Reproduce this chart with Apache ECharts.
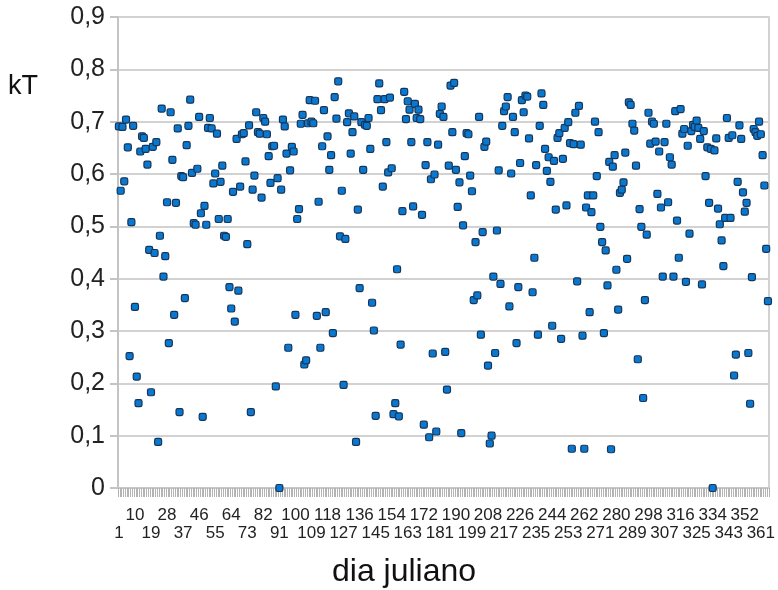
<!DOCTYPE html>
<html>
<head>
<meta charset="utf-8">
<script src="https://cdn.jsdelivr.net/npm/echarts@6/dist/echarts.min.js"></script>
<style>
  html, body { margin: 0; padding: 0; background: #ffffff; }
  #chart { width: 778px; height: 590px; }
</style>
</head>
<body>
<div id="chart"></div>
<script>
// Day of year (categories)
var days = [];
for (var d = 1; d <= 365; d++) { days.push(String(d)); }

// Daily clearness index kT
var kT = [
  0.691, 0.568, 0.690, 0.586, 0.704, 0.651, 0.252, 0.508, 0.692, 0.346,
  0.213, 0.162, 0.643, 0.672, 0.669, 0.648, 0.618, 0.455, 0.183, 0.652,
  0.449, 0.661, 0.088, 0.482, 0.725, 0.404, 0.443, 0.546, 0.277, 0.718,
  0.627, 0.331, 0.545, 0.687, 0.145, 0.596, 0.594, 0.363, 0.655, 0.692,
  0.742, 0.602, 0.506, 0.503, 0.610, 0.709, 0.525, 0.136, 0.539, 0.503,
  0.688, 0.707, 0.687, 0.582, 0.601, 0.677, 0.514, 0.585, 0.616, 0.482,
  0.480, 0.514, 0.384, 0.343, 0.566, 0.318, 0.667, 0.377, 0.576, 0.676,
  0.678, 0.624, 0.466, 0.693, 0.145, 0.570, 0.597, 0.718, 0.680, 0.677,
  0.555, 0.707, 0.700, 0.676, 0.634, 0.583, 0.653, 0.654, 0.194, 0.592,
  0.000, 0.570, 0.704, 0.691, 0.639, 0.268, 0.607, 0.652, 0.643, 0.331,
  0.514, 0.533, 0.696, 0.713, 0.236, 0.244, 0.697, 0.741, 0.700, 0.697,
  0.740, 0.329, 0.547, 0.268, 0.653, 0.722, 0.336, 0.672, 0.608, 0.636,
  0.296, 0.747, 0.706, 0.777, 0.481, 0.568, 0.197, 0.476, 0.699, 0.716,
  0.639, 0.680, 0.710, 0.088, 0.532, 0.382, 0.699, 0.608, 0.694, 0.692,
  0.707, 0.648, 0.354, 0.301, 0.138, 0.743, 0.773, 0.722, 0.576, 0.743,
  0.661, 0.603, 0.746, 0.611, 0.141, 0.162, 0.418, 0.137, 0.274, 0.529,
  0.757, 0.705, 0.739, 0.723, 0.661, 0.538, 0.734, 0.707, 0.723, 0.705,
  0.522, 0.121, 0.617, 0.661, 0.097, 0.590, 0.257, 0.599, 0.108, 0.656,
  0.715, 0.729, 0.709, 0.260, 0.188, 0.616, 0.769, 0.680, 0.774, 0.608,
  0.537, 0.584, 0.105, 0.502, 0.634, 0.678, 0.676, 0.597, 0.567, 0.359,
  0.470, 0.368, 0.709, 0.293, 0.489, 0.652, 0.662, 0.234, 0.085, 0.100,
  0.404, 0.258, 0.492, 0.607, 0.390, 0.692, 0.720, 0.729, 0.747, 0.347,
  0.601, 0.709, 0.680, 0.277, 0.384, 0.621, 0.741, 0.718, 0.750, 0.748,
  0.668, 0.559, 0.374, 0.440, 0.617, 0.293, 0.692, 0.754, 0.732, 0.648,
  0.606, 0.632, 0.585, 0.310, 0.625, 0.532, 0.669, 0.678, 0.285, 0.629,
  0.688, 0.540, 0.699, 0.659, 0.075, 0.657, 0.717, 0.395, 0.730, 0.656,
  0.291, 0.075, 0.536, 0.559, 0.336, 0.527, 0.559, 0.700, 0.596, 0.680,
  0.499, 0.470, 0.296, 0.454, 0.387, 0.623, 0.074, 0.614, 0.636, 0.417,
  0.341, 0.564, 0.570, 0.584, 0.641, 0.438, 0.737, 0.732, 0.696, 0.683,
  0.616, 0.246, 0.533, 0.499, 0.172, 0.359, 0.484, 0.717, 0.658, 0.700,
  0.696, 0.662, 0.562, 0.643, 0.536, 0.404, 0.661, 0.696, 0.546, 0.632,
  0.618, 0.404, 0.720, 0.511, 0.440, 0.724, 0.677, 0.686, 0.394, 0.654,
  0.486, 0.682, 0.694, 0.690, 0.702, 0.688, 0.667, 0.389, 0.682, 0.596,
  0.651, 0.545, 0.648, 0.000, 0.645, 0.668, 0.534, 0.504, 0.473, 0.424,
  0.516, 0.707, 0.669, 0.516, 0.674, 0.215, 0.255, 0.585, 0.693, 0.667,
  0.565, 0.528, 0.545, 0.258, 0.161, 0.403, 0.686, 0.680, 0.673, 0.700,
  0.676, 0.636, 0.578, 0.457, 0.357
];

var yTicks = { min: 0, max: 0.9, interval: 0.1 };
var labelEvery = 9;      // a day label every 9 days: 1, 10, 19, ...
var yName = 'kT';
var xName = 'dia juliano';

var labelFont = { fontFamily: 'Liberation Sans', fontSize: 17, color: '#222222' };

var chart = echarts.init(document.getElementById('chart'), null, { renderer: 'canvas' });

var option = {
  backgroundColor: '#ffffff',
  animation: false,
  grid: { left: 118, right: 7, top: 17, bottom: 102, containLabel: false },
  xAxis: [{
    // main axis: ticks + upper row of labels (10, 28, 46, ...)
    type: 'category',
    data: days,
    boundaryGap: true,
    axisLine: { show: true, lineStyle: { color: '#c4c4c4', width: 1.5 } },
    axisTick: { show: true, interval: 0, length: 9, lineStyle: { color: '#b4b4b4', width: 1 } },
    axisLabel: Object.assign({
      margin: 19,
      interval: function (index) { return index % (2 * labelEvery) === labelEvery; }
    }, labelFont),
    splitLine: { show: false }
  }, {
    // companion axis: lower row of labels (1, 19, 37, ...)
    type: 'category',
    data: days,
    position: 'bottom',
    boundaryGap: true,
    axisLine: { show: false },
    axisTick: { show: false },
    axisLabel: Object.assign({
      margin: 37,
      interval: function (index) { return index % (2 * labelEvery) === 0; }
    }, labelFont),
    splitLine: { show: false }
  }],
  yAxis: [{
    type: 'value',
    min: yTicks.min,
    max: yTicks.max,
    interval: yTicks.interval,
    axisLine: { show: true, lineStyle: { color: '#c4c4c4', width: 2 } },
    axisTick: { show: true, length: 8, lineStyle: { color: '#c4c4c4', width: 2 } },
    axisLabel: {
      margin: 13,
      fontFamily: 'Liberation Sans',
      fontSize: 25,
      color: '#222222',
      formatter: function (v) {
        if (Math.abs(v) < 1e-9) return '0';
        return v.toFixed(1).replace('.', ',');
      }
    },
    splitLine: { show: true, lineStyle: { color: '#d2d2d2', width: 2 } }
  }, {
    type: 'value',
    position: 'right',
    min: yTicks.min,
    max: yTicks.max,
    interval: yTicks.interval,
    axisLine: { show: true, lineStyle: { color: '#d2d2d2', width: 2 } },
    axisTick: { show: false },
    axisLabel: { show: false },
    splitLine: { show: false }
  }],
  graphic: [
    {
      type: 'text', left: 8, top: 73,
      style: { text: yName, fontFamily: 'Liberation Sans', fontSize: 27, fill: '#111111' }
    },
    {
      type: 'text', left: 332, top: 556,
      style: { text: xName, fontFamily: 'Liberation Sans', fontSize: 32, fill: '#111111' }
    }
  ],
  series: [{
    type: 'scatter',
    data: kT,
    xAxisIndex: 0,
    yAxisIndex: 0,
    clip: false,
    symbol: 'roundRect',
    symbolSize: 7,
    itemStyle: { color: '#0b78d0', borderColor: '#15365a', borderWidth: 1.2, opacity: 1 },
    z: 5
  }]
};

chart.setOption(option);
</script>
</body>
</html>
